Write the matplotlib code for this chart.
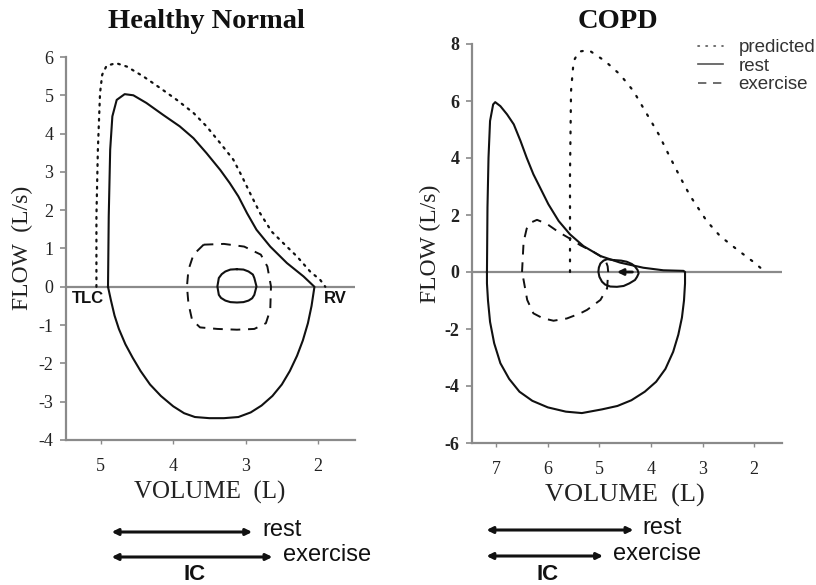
import numpy as np
import matplotlib.pyplot as plt

plt.rcParams['font.family'] = ['Liberation Serif', 'DejaVu Serif']

# ---- Healthy Normal panel (volume L, flow L/s) ----
hn_pred_vol = [5.06, 5.06, 5.04, 5.01, 4.98, 4.92, 4.79, 4.64, 4.41, 4.18, 3.95, 3.72,
               3.54, 3.35, 3.17, 3.05, 2.94, 2.80, 2.64, 2.48, 2.29, 2.11, 1.97, 1.90]
hn_pred_flow = [0.0, 1.84, 3.58, 5.06, 5.54, 5.77, 5.84, 5.75, 5.49, 5.19, 4.88, 4.54,
                4.19, 3.75, 3.32, 2.88, 2.45, 1.92, 1.44, 1.14, 0.79, 0.40, 0.18, 0.0]

hn_rest_vol = [4.90, 4.89, 4.87, 4.84, 4.78, 4.67, 4.55, 4.37, 4.14, 3.91, 3.72, 3.54,
               3.35, 3.22, 3.10, 2.98, 2.85, 2.66, 2.43, 2.20, 2.05,
               2.09, 2.14, 2.21, 2.29, 2.39, 2.50, 2.63, 2.78, 2.93, 3.10, 3.30, 3.50,
               3.70, 3.85, 4.00, 4.17, 4.32, 4.45, 4.56, 4.66, 4.75, 4.81, 4.86, 4.90]
hn_rest_flow = [0.0, 1.84, 3.58, 4.45, 4.88, 5.03, 5.0, 4.8, 4.49, 4.19, 3.88, 3.49,
                3.05, 2.71, 2.36, 1.92, 1.49, 1.05, 0.62, 0.27, 0.0,
                -0.5, -0.95, -1.4, -1.8, -2.2, -2.55, -2.85, -3.1, -3.28, -3.40, -3.43, -3.43,
                -3.40, -3.30, -3.12, -2.85, -2.55, -2.2, -1.85, -1.5, -1.1, -0.75, -0.35, 0.0]

hn_tidal_rest_vol = [3.12, 3.03, 2.96, 2.90, 2.88, 2.85, 2.88, 2.91, 2.96, 3.03, 3.12,
                     3.21, 3.28, 3.34, 3.37, 3.39, 3.37, 3.33, 3.28, 3.21, 3.12]
hn_tidal_rest_flow = [0.46, 0.45, 0.40, 0.32, 0.23, 0.01, -0.21, -0.30, -0.36, -0.40, -0.41,
                      -0.40, -0.36, -0.29, -0.21, 0.01, 0.23, 0.33, 0.40, 0.45, 0.46]

hn_tidal_ex_vol = [3.58, 3.30, 3.02, 2.79, 2.70, 2.65, 2.66, 2.72, 2.88, 3.12, 3.39, 3.63,
                   3.74, 3.79, 3.81, 3.79, 3.72, 3.58]
hn_tidal_ex_flow = [1.10, 1.12, 1.05, 0.84, 0.53, 0.01, -0.60, -0.95, -1.10, -1.12, -1.10, -1.06,
                    -0.86, -0.43, 0.01, 0.44, 0.84, 1.10]

hn_ic_rest = (4.85, 2.91)
hn_ic_ex = (4.85, 2.63)

# ---- COPD panel ----
copd_pred_vol = [5.57, 5.57, 5.55, 5.50, 5.40, 5.21, 4.89, 4.60, 4.34, 4.15, 3.85, 3.66,
                 3.43, 3.24, 2.92, 2.66, 2.34, 2.04, 1.88]
copd_pred_flow = [0.0, 3.43, 6.35, 7.40, 7.73, 7.79, 7.40, 6.93, 6.35, 5.76, 4.83, 4.13,
                  3.31, 2.67, 1.79, 1.26, 0.80, 0.39, 0.15]

copd_rest_vol = [7.18, 7.17, 7.15, 7.12, 7.06, 7.02, 6.92, 6.79, 6.66, 6.53, 6.41, 6.28,
                 6.15, 5.99, 5.79, 5.57, 5.31, 4.98, 4.60, 4.15, 3.76, 3.37, 3.34,
                 3.34, 3.36, 3.40, 3.47, 3.57, 3.72, 3.90, 4.12, 4.38, 4.65, 4.95, 5.34,
                 5.65, 6.00, 6.30, 6.55, 6.75, 6.92, 7.04, 7.12, 7.16, 7.18, 7.18]
copd_rest_flow = [0.0, 2.26, 4.01, 5.30, 5.88, 5.96, 5.82, 5.53, 5.18, 4.6, 4.01, 3.43,
                  2.96, 2.38, 1.79, 1.32, 0.91, 0.56, 0.33, 0.15, 0.06, 0.04, 0.0,
                  -0.4, -1.0, -1.6, -2.2, -2.8, -3.4, -3.85, -4.2, -4.5, -4.7, -4.82, -4.95,
                  -4.9, -4.75, -4.52, -4.2, -3.75, -3.2, -2.5, -1.75, -1.0, -0.4, 0.0]

copd_ex_vol = [6.50, 6.47, 6.41, 6.31, 6.21, 6.02, 5.79, 5.57, 5.37, 5.11, 4.98, 4.88,
               4.84, 4.83, 4.85, 4.98, 5.24, 5.37, 5.63, 5.89, 6.10, 6.28, 6.40, 6.47, 6.50]
copd_ex_flow = [0.0, 1.05, 1.52, 1.75, 1.83, 1.69, 1.40, 1.17, 0.94, 0.70, 0.56, 0.40,
                0.2, 0.0, -0.57, -0.98, -1.33, -1.45, -1.63, -1.71, -1.62, -1.45, -0.98, -0.28, 0.0]

copd_tidal_rest_vol = [4.73, 4.58, 4.47, 4.37, 4.31, 4.26, 4.24, 4.27, 4.31, 4.42, 4.53, 4.66,
                       4.79, 4.89, 4.95, 5.00, 5.02, 5.01, 4.98, 4.92, 4.85, 4.73]
copd_tidal_rest_flow = [0.42, 0.40, 0.36, 0.28, 0.19, 0.07, -0.05, -0.17, -0.28, -0.40, -0.49,
                        -0.52, -0.51, -0.44, -0.34, -0.17, 0.01, 0.16, 0.30, 0.40, 0.45, 0.42]

copd_tidal_arrow = (4.36, 4.66)  # volume from -> to at zero flow

copd_ic_rest = (7.19, 4.34)
copd_ic_ex = (7.19, 4.93)

GRAY = '#8a8a8a'
INK = '#111111'
SANS = ['Liberation Sans', 'DejaVu Sans']


def style_axes(ax, yticks, xticks, bold_y=False):
    for s in ['top', 'right']:
        ax.spines[s].set_visible(False)
    for s in ['left', 'bottom']:
        ax.spines[s].set_color(GRAY)
        ax.spines[s].set_linewidth(1.6)
    ax.axhline(0, color=GRAY, lw=1.6, zorder=1)
    ax.set_yticks(yticks)
    ax.set_xticks(xticks)
    ax.set_yticklabels([str(v) for v in yticks], fontsize=13,
                       fontweight='bold' if bold_y else 'normal')
    ax.set_xticklabels([str(v) for v in xticks], fontsize=13)
    ax.tick_params(axis='y', colors=GRAY, labelcolor='#222222', length=4, width=1.2, pad=5)
    ax.tick_params(axis='x', colors=GRAY, labelcolor='#222222', length=3, width=1, pad=10)


fig = plt.figure(figsize=(8.16, 5.85), dpi=100)
ax1 = fig.add_axes([66 / 816, 1 - 440 / 585, (355 - 66) / 816, (440 - 57) / 585])
ax2 = fig.add_axes([472 / 816, 1 - 443 / 585, (782 - 472) / 816, (443 - 44) / 585])

# left panel
ax1.plot(hn_pred_vol, hn_pred_flow, color=INK, lw=1.6, linestyle=(0, (0.8, 2.6)),
         dash_capstyle='round')
ax1.plot(hn_rest_vol, hn_rest_flow, color=INK, lw=1.5)
ax1.plot(hn_tidal_rest_vol, hn_tidal_rest_flow, color=INK, lw=1.5)
ax1.plot(hn_tidal_ex_vol, hn_tidal_ex_flow, color=INK, lw=1.4, linestyle=(0, (5, 4)))
ax1.set_xlim(5.48, 1.49)
ax1.set_ylim(-4, 6)
style_axes(ax1, [6, 5, 4, 3, 2, 1, 0, -1, -2, -3, -4], [5, 4, 3, 2])
ax1.text(5.18, -0.31, 'TLC', family=SANS, fontweight='bold', fontsize=12,
         ha='center', va='center', color=INK)
ax1.text(1.76, -0.31, 'RV', family=SANS, fontweight='bold', fontsize=12,
         ha='center', va='center', color=INK)

# right panel
ax2.plot(copd_pred_vol, copd_pred_flow, color=INK, lw=1.6, linestyle=(0, (0.8, 4.0)),
         dash_capstyle='round', label='predicted')
ax2.plot(copd_rest_vol, copd_rest_flow, color=INK, lw=1.5, label='rest')
ax2.plot(copd_ex_vol, copd_ex_flow, color=INK, lw=1.4, linestyle=(0, (5, 4)), label='exercise')
ax2.plot(copd_tidal_rest_vol, copd_tidal_rest_flow, color=INK, lw=1.5)
ax2.annotate('', xy=(copd_tidal_arrow[1], 0), xytext=(copd_tidal_arrow[0], 0),
             arrowprops=dict(arrowstyle='-|>', color=INK, lw=2, mutation_scale=9,
                             shrinkA=0, shrinkB=0))
ax2.set_xlim(7.47, 1.46)
ax2.set_ylim(-6, 8)
style_axes(ax2, [8, 6, 4, 2, 0, -2, -4, -6], [7, 6, 5, 4, 3, 2], bold_y=True)

leg = ax2.legend(loc='upper left', bbox_to_anchor=(698 / 816, 1 - 39 / 585),
                 bbox_transform=fig.transFigure, frameon=False, borderpad=0,
                 borderaxespad=0, handlelength=1.35, handletextpad=0.8, labelspacing=0.08,
                 prop={'family': SANS, 'size': 13.5})
for t in leg.get_texts():
    t.set_color('#333333')
for h in leg.get_lines():
    h.set_color('#555555')
    h.set_linewidth(1.2)

# titles and axis labels
fig.text(206 / 816, 1 - 21 / 585, 'Healthy Normal', fontsize=20.5, fontweight='bold',
         ha='center', va='center', color=INK)
fig.text(618 / 816, 1 - 22 / 585, 'COPD', fontsize=20.5, fontweight='bold',
         ha='center', va='center', color=INK)
fig.text(22 / 816, 1 - 248 / 585, 'FLOW  (L/s)', fontsize=17, rotation=90,
         ha='center', va='center', color='#222222')
fig.text(430 / 816, 1 - 244 / 585, 'FLOW (L/s)', fontsize=17, rotation=90,
         ha='center', va='center', color='#222222')
fig.text(210 / 816, 1 - 492 / 585, 'VOLUME  (L)', fontsize=18,
         ha='center', va='center', color='#222222')
fig.text(625 / 816, 1 - 495 / 585, 'VOLUME  (L)', fontsize=19,
         ha='center', va='center', color='#222222')


# inspiratory capacity arrows
def ic_arrow(ax, span, yfig):
    ax.annotate('', xy=(span[1], yfig), xytext=(span[0], yfig),
                xycoords=('data', 'figure fraction'),
                textcoords=('data', 'figure fraction'),
                arrowprops=dict(arrowstyle='<|-|>', color=INK, lw=2.2,
                                mutation_scale=9, shrinkA=0, shrinkB=0),
                annotation_clip=False)


ic_arrow(ax1, hn_ic_rest, 1 - 532 / 585)
ic_arrow(ax1, hn_ic_ex, 1 - 557 / 585)
ic_arrow(ax2, copd_ic_rest, 1 - 530 / 585)
ic_arrow(ax2, copd_ic_ex, 1 - 556 / 585)

for x, y, s in [(262, 530, 'rest'), (283, 555, 'exercise'),
                (642, 528, 'rest'), (613, 554, 'exercise')]:
    fig.text(x / 816, 1 - y / 585, s, family=SANS, fontsize=17, ha='left',
             va='center', color=INK)
for x in [195, 548]:
    fig.text(x / 816, 1 - 580 / 585, 'IC', family=SANS, fontsize=16,
             fontweight='bold', ha='center', va='baseline', color=INK)

fig.savefig('out.png', dpi=100)
